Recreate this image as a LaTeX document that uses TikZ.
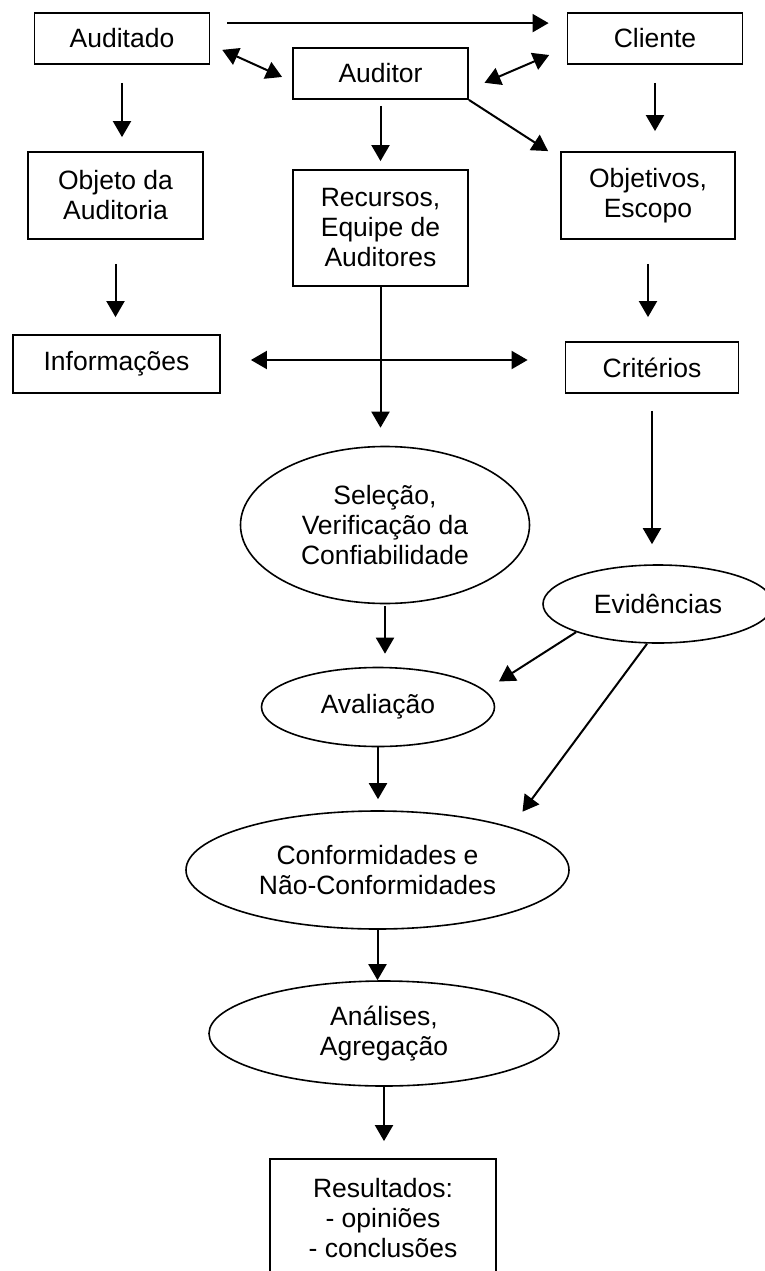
\documentclass[tikz,border=0pt]{standalone}
\usepackage{fontspec}
\setmainfont{Liberation Sans}
\usetikzlibrary{shapes.geometric, arrows.meta}

\begin{document}
\begin{tikzpicture}[x=1pt, y=-1pt,
	every node/.style={font=\fontsize{26.5}{30}\selectfont},
	caixa/.style={rectangle, draw, line width=1.8pt, align=center, inner sep=0pt,
	              minimum width=175pt, minimum height=51pt},
	elipse/.style={ellipse, draw, line width=1.6pt, align=center, inner sep=0pt},
	seta/.style={-{Triangle[length=16pt,width=18pt]}, line width=2pt},
	dupla/.style={{Triangle[length=16pt,width=18pt]}-{Triangle[length=16pt,width=18pt]}, line width=2pt}
	]
\useasboundingbox (0,0) rectangle (765,1271);
\clip (0,0) rectangle (765,1271);

\node[caixa] (auditado) at (122,38.5) {Auditado};
\node[caixa] (cliente)  at (655,38.5) {Cliente};
\node[caixa] (auditor)  at (380.5,73.5) {Auditor};

\node[caixa, minimum height=87pt]  (objeto)    at (115.5,195.5) {Objeto da\\Auditoria};
\node[caixa, minimum height=116pt] (recursos)  at (380.5,228) {Recursos,\\Equipe de\\Auditores};
\node[caixa, minimum width=174pt, minimum height=87pt] (objetivos) at (648,195.5) {Objetivos,\\Escopo};

\node[caixa, minimum width=207pt, minimum height=58pt] (info) at (116.5,364) {Informações};
\node[caixa, minimum width=173pt] (criterios) at (652,367.5) {Critérios};

\node[elipse, minimum width=289pt, minimum height=157pt] (selecao) at (385,525)
  {Seleção,\\Verificação da\\Confiabilidade};
\node[elipse, minimum width=230pt, minimum height=78pt] (evidencias) at (658,604) {Evidências};
\node[elipse, minimum width=233pt, minimum height=79pt] (avaliacao) at (378,707) {Avaliação};
\node[elipse, minimum width=383pt, minimum height=118pt] (conformidades) at (377.5,870)
  {Conformidades e\\Não-Conformidades};
\node[elipse, minimum width=350pt, minimum height=105pt] (analises) at (384,1033.5)
  {Análises,\\Agregação};

\node[caixa, minimum width=226pt, minimum height=118pt] (resultados) at (383,1218)
  {Resultados:\\- opiniões\\- conclusões};

% setas verticais: origem/destino/folga inicial/folga final
\foreach \de/\para/\ini/\fim in {auditado/objeto/18pt/14pt, auditor/recursos/6pt/8pt,
    cliente/objetivos/18pt/20pt, objeto/info/24pt/17pt, objetivos/criterios/24pt/24pt,
    recursos/selecao/0pt/18pt, criterios/evidencias/17pt/20pt, selecao/avaliacao/2pt/13pt,
    avaliacao/conformidades/0pt/11pt, conformidades/analises/0pt/0pt, analises/resultados/0pt/17pt}
  \draw[seta, shorten <=\ini, shorten >=\fim] (\de.south) -- (\de.south |- \para.north);

\draw[seta, shorten <=17pt, shorten >=18pt]
  ([yshift=-11pt]auditado.north east) -- ([yshift=-11pt]cliente.north west);
\draw[dupla, shorten <=13pt, shorten >=11pt]
  ([yshift=-6pt]auditado.east) -- ([yshift=-8pt]auditor.west);
\draw[dupla, shorten <=17pt, shorten >=19pt]
  ([yshift=-16pt]auditor.east) -- ([yshift=-9pt]cliente.west);
\draw[seta] (auditor.south east) -- ([xshift=-12pt]objetivos.north west);

\draw[dupla, shorten <=30pt, shorten >=37pt]
  ([yshift=4pt]info.east) -- ([yshift=4pt]info.east -| criterios.west);

\draw[seta] (evidencias.south west) -- ([shift={(38pt,-3pt)}]avaliacao.north east);
\draw[seta] ([xshift=-11pt]evidencias.south) -- ([shift={(9pt,16pt)}]conformidades.north east);
\end{tikzpicture}
\end{document}
